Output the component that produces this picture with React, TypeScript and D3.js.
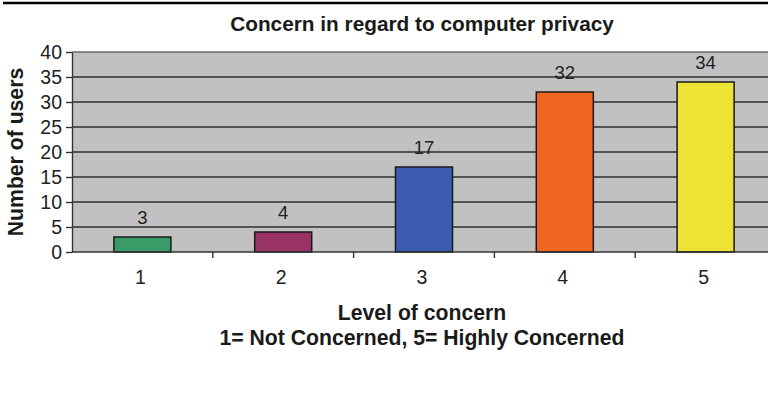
import React, { useRef, useEffect } from 'react';
import * as d3 from 'd3';

// chart data
const categories = ['1', '2', '3', '4', '5'];
const userCounts = [3, 4, 17, 32, 34];
const barColors = ['#3a9a68', '#993366', '#3c5caf', '#ee6620', '#ece333'];
const yTicks = [0, 5, 10, 15, 20, 25, 30, 35, 40];

const chartTitle = 'Concern in regard to computer privacy';
const yTitle = 'Number of users';
const xTitle = ['Level of concern', '1= Not Concerned, 5= Highly Concerned'];

const App = () => {
  const chartRef = useRef(null);

  useEffect(() => {
    const width = 768;
    const height = 400;
    // plot area (runs past the right edge, like the source)
    const plot = { left: 72, right: 776, top: 52, bottom: 252 };
    const font = '"Liberation Sans", Arial, sans-serif';

    d3.select(chartRef.current).selectAll('*').remove();

    const svg = d3.select(chartRef.current)
      .append('svg')
      .attr('width', width)
      .attr('height', height)
      .style('display', 'block')
      .style('background', '#fff')
      .style('font-family', font);

    // scales
    const x = d3.scaleBand()
      .domain(categories)
      .range([plot.left, plot.right])
      .padding(0);

    const y = d3.scaleLinear()
      .domain([0, 40])
      .range([plot.bottom, plot.top]);

    // rule at the very top of the figure
    svg.append('line')
      .attr('x1', 3).attr('x2', width)
      .attr('y1', 3).attr('y2', 3)
      .attr('stroke', '#000')
      .attr('stroke-width', 2.5);

    // plot background
    svg.append('rect')
      .attr('x', plot.left)
      .attr('y', plot.top)
      .attr('width', plot.right - plot.left)
      .attr('height', plot.bottom - plot.top)
      .attr('fill', '#c0c1c0');

    // gridlines
    svg.append('g')
      .selectAll('line')
      .data(yTicks.filter(d => d > 0))
      .enter()
      .append('line')
      .attr('x1', plot.left).attr('x2', plot.right)
      .attr('y1', d => y(d)).attr('y2', d => y(d))
      .attr('stroke', d => (d === 40 ? '#6a6a6a' : '#2e2e2e'))
      .attr('stroke-width', 1.4);

    // y axis
    const yAxis = svg.append('g')
      .attr('transform', `translate(${plot.left},0)`)
      .call(d3.axisLeft(y).tickValues(yTicks).tickSize(6).tickPadding(4).tickSizeOuter(0));
    yAxis.select('.domain').attr('stroke', '#333').attr('stroke-width', 1.4);
    yAxis.selectAll('.tick line').attr('stroke', '#333').attr('stroke-width', 1.4);
    yAxis.selectAll('.tick text')
      .attr('fill', '#222')
      .style('font-size', '19.5px')
      .style('font-family', font);

    // bars
    const barW = x.bandwidth() * 0.405;
    svg.append('g')
      .selectAll('rect')
      .data(userCounts)
      .enter()
      .append('rect')
      .attr('x', (d, i) => x(categories[i]) + (x.bandwidth() - barW) / 2)
      .attr('y', d => y(d))
      .attr('width', barW)
      .attr('height', d => y(0) - y(d))
      .attr('fill', (d, i) => barColors[i])
      .attr('stroke', '#1a1a1a')
      .attr('stroke-width', 1.5);

    // value labels
    svg.append('g')
      .selectAll('text')
      .data(userCounts)
      .enter()
      .append('text')
      .attr('x', (d, i) => x(categories[i]) + x.bandwidth() / 2)
      .attr('y', d => y(d) - 13)
      .attr('text-anchor', 'middle')
      .attr('fill', '#222')
      .style('font-size', '18.5px')
      .text(d => d);

    // x axis: ticks at the category boundaries
    const xAxisG = svg.append('g');
    xAxisG.append('line')
      .attr('x1', plot.left).attr('x2', plot.right)
      .attr('y1', plot.bottom).attr('y2', plot.bottom)
      .attr('stroke', '#333').attr('stroke-width', 1.4);
    xAxisG.selectAll('line.tick')
      .data(categories.slice(1))
      .enter()
      .append('line')
      .attr('class', 'tick')
      .attr('x1', d => x(d)).attr('x2', d => x(d))
      .attr('y1', plot.bottom).attr('y2', plot.bottom + 6)
      .attr('stroke', '#333').attr('stroke-width', 1.4);
    xAxisG.selectAll('text')
      .data(categories)
      .enter()
      .append('text')
      .attr('x', d => x(d) + x.bandwidth() / 2 - 2)
      .attr('y', 284)
      .attr('text-anchor', 'middle')
      .attr('fill', '#222')
      .style('font-size', '19.5px')
      .text(d => d);

    const midX = (plot.left + plot.right) / 2 - 2;

    // chart title
    svg.append('text')
      .attr('x', midX)
      .attr('y', 31)
      .attr('text-anchor', 'middle')
      .attr('fill', '#1a1a1a')
      .style('font-size', '20.8px')
      .style('font-weight', 'bold')
      .text(chartTitle);

    // x title (two lines)
    svg.append('g')
      .selectAll('text')
      .data(xTitle)
      .enter()
      .append('text')
      .attr('x', midX)
      .attr('y', (d, i) => 320 + i * 25)
      .attr('text-anchor', 'middle')
      .attr('fill', '#1a1a1a')
      .style('font-size', '21.2px')
      .style('font-weight', 'bold')
      .text(d => d);

    // y title
    svg.append('text')
      .attr('transform', `translate(23,${(plot.top + plot.bottom) / 2}) rotate(-90)`)
      .attr('text-anchor', 'middle')
      .attr('fill', '#1a1a1a')
      .style('font-size', '21.2px')
      .style('font-weight', 'bold')
      .text(yTitle);
  }, []);

  return (
    <div ref={chartRef} style={{ position: 'absolute', left: 0, top: 0, width: 768, height: 400, overflow: 'hidden' }}></div>
  );
};

export default App;
